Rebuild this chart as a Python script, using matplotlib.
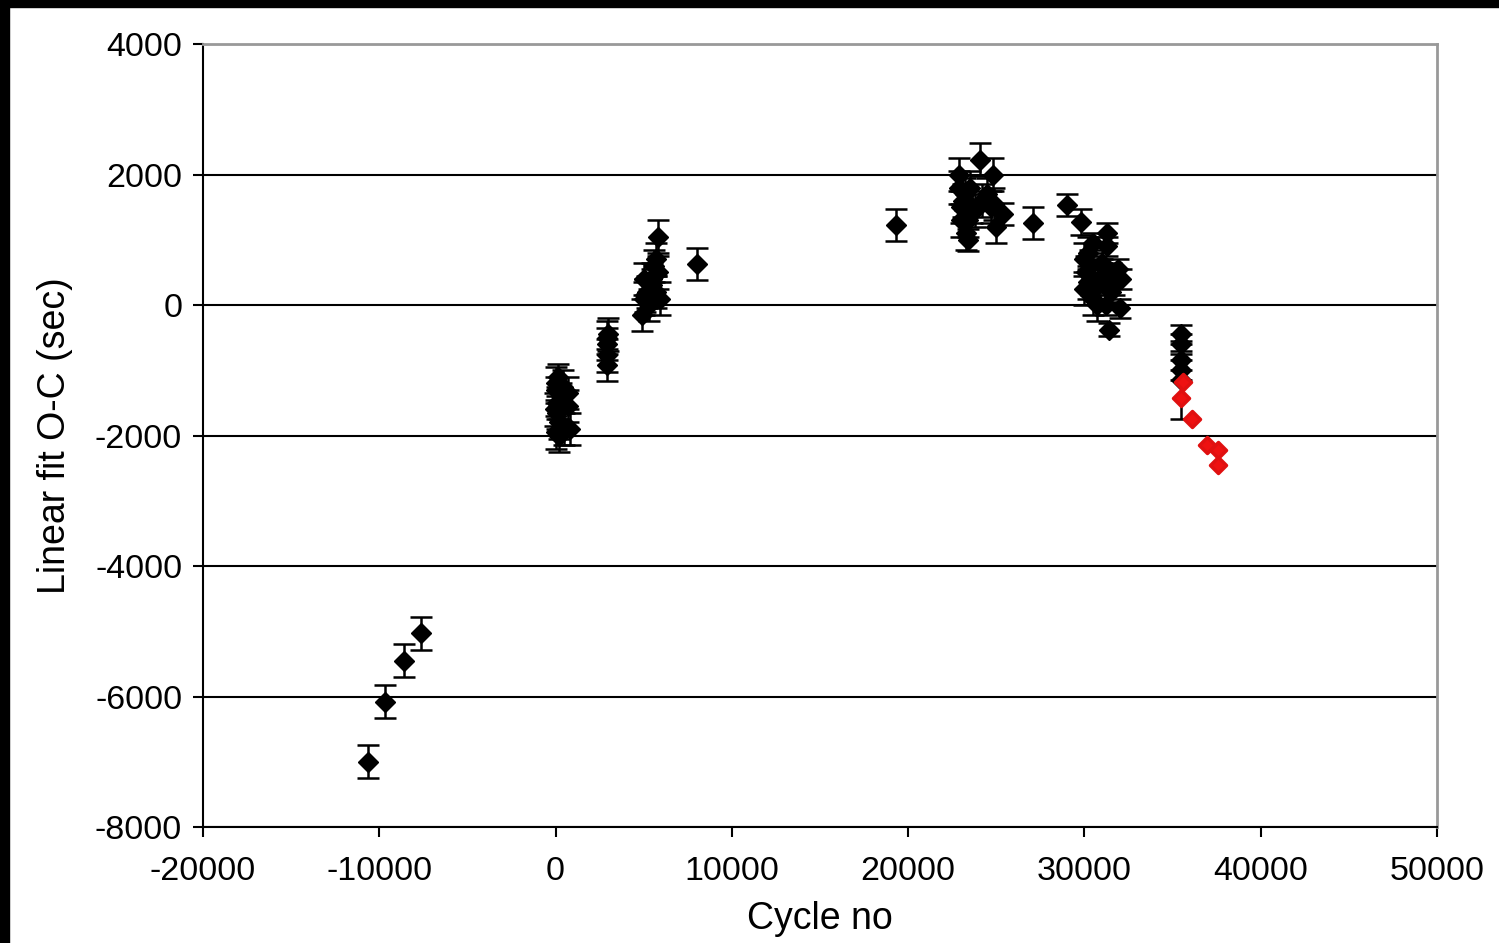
import matplotlib.pyplot as plt
from matplotlib.patches import Rectangle
from matplotlib.markers import MarkerStyle

plt.rcParams['font.family'] = ['Liberation Sans', 'DejaVu Sans']
plt.rcParams['axes.unicode_minus'] = False

# early points
early_x = [-10650, -9700, -8600, -7650]
early_y = [-7000, -6080, -5450, -5030]
early_err = [250, 250, 250, 250]

# points near cycle 0
c0_x = [0, 0, 100, 100, 200, 0, 200, 300, 400, 700, 700, 800, 500, -50, 150]
c0_y = [-1200, -1300, -1500, -1650, -1800, -1950, -2000, -1400, -1250, -1350, -1550, -1900, -1900, -1600, -1100]
c0_err = [250, 200, 250, 250, 250, 250, 250, 200, 250, 250, 250, 250, 250, 250, 200]

c3_x = [2900, 2900, 2900, 2900, 2950]
c3_y = [-500, -600, -770, -920, -450]
c3_err = [250, 250, 250, 250, 250]

c5_x = [5000, 5000, 4900, 5200, 5300, 5500, 5600, 5700, 5800, 5700, 5900, 5500, 5800, 5100]
c5_y = [400, 100, -150, 200, 0, 300, 600, 700, 1050, 200, 100, 400, 500, 150]
c5_err = [250, 250, 250, 250, 250, 250, 250, 250, 250, 250, 250, 250, 250, 250]

mid_x = [8000, 19300, 27100, 29000]
mid_y = [630, 1225, 1260, 1530]
mid_err = [250, 250, 250, 170]

c23_x = [22900, 22900, 23000, 23000, 23200, 23300, 23400, 23500, 23600, 23400, 24100, 24200,
         24500, 24800, 24900, 25000, 25400, 24700, 23100, 23800]
c23_y = [2000, 1800, 1500, 1300, 1700, 1100, 1000, 1800, 1500, 1300, 2230, 1600,
         1700, 2000, 1550, 1200, 1400, 1500, 1600, 1450]
c23_err = [250, 250, 250, 250, 250, 250, 170, 250, 250, 250, 250, 250,
           250, 250, 250, 250, 170, 250, 250, 250]

c30_x = [29800, 30000, 30100, 30000, 30200, 30300, 30400, 30500, 30500, 30800, 31000, 31200,
         31300, 31300, 31400, 31500, 31500, 31700, 31900, 32000, 32100, 30700, 31000, 30200]
c30_y = [1270, 700, 500, 250, 800, 600, 400, 100, 950, 300, 650, 0,
         1100, 900, -380, 500, 200, 300, 550, -50, 400, 0, 450, 350]
c30_err = [200, 250, 250, 250, 250, 250, 250, 250, 150, 250, 250, 150,
           150, 150, 100, 150, 150, 150, 150, 150, 150, 250, 250, 250]

c35_x = [35500, 35500, 35500, 35500, 35500]
c35_y = [-450, -600, -850, -1000, -1150]
c35_err = [150, 150, 150, 150, 600]

red_x = [35600, 35500, 36100, 36950, 37600, 37600]
red_y = [-1180, -1425, -1750, -2145, -2225, -2450]

blk_x = early_x + c0_x + c3_x + c5_x + mid_x + c23_x + c30_x + c35_x
blk_y = early_y + c0_y + c3_y + c5_y + mid_y + c23_y + c30_y + c35_y
blk_err = early_err + c0_err + c3_err + c5_err + mid_err + c23_err + c30_err + c35_err

fig = plt.figure(figsize=(14.99, 9.43), dpi=100)
ax = fig.add_axes([0.1354, 0.123, 0.8232, 0.8303])

ax.errorbar(blk_x, blk_y, yerr=blk_err, fmt='D', color='black', markersize=10.5,
            ecolor='black', elinewidth=1.8, capsize=8, capthick=1.8, zorder=3)
ax.plot(red_x, red_y, linestyle='none', marker=MarkerStyle('D', joinstyle='round'),
        color='#ee1111', markersize=8.5, markeredgecolor='#e01010', markeredgewidth=2.5, zorder=4)

ax.set_xlim(-20000, 50000)
ax.set_ylim(-8000, 4000)
ax.set_xticks(range(-20000, 50001, 10000))
ax.set_yticks(range(-8000, 4001, 2000))
ax.tick_params(labelsize=24.5, direction='out', length=7, width=1.5)
ax.tick_params(axis='x', pad=14)
ax.tick_params(axis='y', pad=8)
ax.yaxis.grid(True, color='black', linewidth=1.5)
ax.set_axisbelow(True)

for s in ['left', 'bottom']:
    ax.spines[s].set_linewidth(1.5)
    ax.spines[s].set_color('black')
for s in ['right', 'top']:
    ax.spines[s].set_linewidth(2)
    ax.spines[s].set_color('#999999')

ax.set_xlabel('Cycle no', fontsize=27, labelpad=10)
ax.set_ylabel('Linear fit O-C (sec)', fontsize=27, labelpad=16)

# black border strips of the screenshot
fig.patches.append(Rectangle((0, 1 - 7 / 943), 1, 7 / 943, transform=fig.transFigure,
                             color='black', zorder=10))
fig.patches.append(Rectangle((0, 0), 9 / 1499, 1, transform=fig.transFigure,
                             color='black', zorder=10))

fig.savefig('out.png', dpi=100)
